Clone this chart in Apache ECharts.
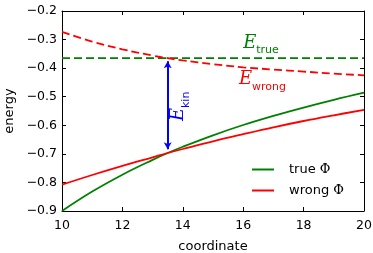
<!DOCTYPE html>
<html><head><meta charset="utf-8">
<script src="https://cdn.jsdelivr.net/npm/echarts@6/dist/echarts.min.js"></script>
<style>html,body{margin:0;padding:0;background:#fff}#c{width:373px;height:253px}</style>
</head><body><div id="c"></div>
<script>
// ---- data ----
const coord = [10, 11, 12, 13, 13.5, 14, 15, 16, 17, 18, 19, 20];
const truePhi = [-0.900, -0.832, -0.773, -0.721, -0.697, -0.675, -0.635, -0.599, -0.567, -0.538, -0.511, -0.486];
const wrongPhi = [-0.808, -0.774, -0.742, -0.712, -0.697, -0.683, -0.656, -0.631, -0.607, -0.585, -0.565, -0.546];
const eWrong = [-0.273, -0.307, -0.334, -0.356, -0.365, -0.373, -0.386, -0.397, -0.405, -0.412, -0.419, -0.425];
const eTrue = -0.365;
const eTrueX = [10, 20];
const kinX = 13.5;
const kinEnds = [-0.376, -0.684];
const xTicks = [10, 12, 14, 16, 18, 20];
const yTicks = [-0.9, -0.8, -0.7, -0.6, -0.5, -0.4, -0.3, -0.2];

const GREEN = '#008000', RED = '#ff0000', BLUE = '#0000ff';
const FONT = 'DejaVu Sans';
const fmtY = v => (v < 0 ? '\u2212' : '') + Math.abs(v).toFixed(1);
const pair = (xs, ys) => xs.map((x, i) => [x, ys[i]]);

const chart = echarts.init(document.getElementById('c'), null, {renderer: 'canvas'});
const axisCommon = {
  axisLine: {show: true, lineStyle: {color: '#000', width: 1}},
  axisTick: {show: true, inside: true, length: 4, lineStyle: {color: '#000', width: 1}},
  splitLine: {show: false}
};
chart.setOption({
  animation: false,
  backgroundColor: '#fff',
  grid: {left: 62, right: 9, top: 11, bottom: 42, containLabel: false, outerBoundsMode: 'none'},
  xAxis: [
    Object.assign({type: 'value', position: 'bottom', min: xTicks[0], max: xTicks[xTicks.length - 1], interval: 2,
      name: 'coordinate', nameLocation: 'middle', nameGap: 29,
      nameTextStyle: {fontFamily: FONT, fontSize: 13, color: '#000'},
      axisLabel: {fontFamily: FONT, fontSize: 12.5, color: '#000', margin: 8}}, axisCommon),
    Object.assign({type: 'value', position: 'top', min: xTicks[0], max: xTicks[xTicks.length - 1], interval: 2,
      axisLabel: {show: false}}, axisCommon)
  ],
  yAxis: [
    Object.assign({type: 'value', position: 'left', min: yTicks[0], max: yTicks[yTicks.length - 1], interval: 0.1,
      name: 'energy', nameLocation: 'middle', nameGap: 38, nameRotate: 90,
      nameTextStyle: {fontFamily: FONT, fontSize: 13, color: '#000'},
      axisLabel: {fontFamily: FONT, fontSize: 12.5, color: '#000', margin: 5, formatter: fmtY}}, axisCommon),
    Object.assign({type: 'value', position: 'right', min: yTicks[0], max: yTicks[yTicks.length - 1], interval: 0.1,
      axisLabel: {show: false}}, axisCommon)
  ],
  legend: {
    orient: 'vertical', left: 247, top: 157, itemGap: 6, itemWidth: 22, itemHeight: 2,
    data: [{name: 'true \u03a6', icon: 'rect'}, {name: 'wrong \u03a6', icon: 'rect'}],
    formatter: name => '{a|' + name.slice(0, -1) + '}{b|\u03a6}',
    textStyle: {fontFamily: FONT, fontSize: 13, color: '#000', lineHeight: 15, padding: [0, 0, 0, 10],
      rich: {a: {fontFamily: FONT, fontSize: 13, color: '#000'}, b: {fontFamily: 'DejaVu Serif', fontSize: 13, color: '#000'}}},
    selectedMode: false
  },
  series: [
    {name: 'E_true', type: 'line', data: pair(eTrueX, [eTrue, eTrue]), showSymbol: false, symbol: 'none',
      lineStyle: {color: GREEN, width: 1.8, type: [8, 4]}, itemStyle: {color: GREEN}, z: 2},
    {name: 'E_wrong', type: 'line', data: pair(coord, eWrong), smooth: 0.4, showSymbol: false, symbol: 'none',
      lineStyle: {color: RED, width: 1.8, type: [8, 4]}, itemStyle: {color: RED}, z: 3},
    {name: 'true \u03a6', type: 'line', data: pair(coord, truePhi), smooth: 0.4, showSymbol: false, symbol: 'none',
      lineStyle: {color: GREEN, width: 1.8}, itemStyle: {color: GREEN}, z: 4},
    {name: 'wrong \u03a6', type: 'line', data: pair(coord, wrongPhi), smooth: 0.4, showSymbol: false, symbol: 'none',
      lineStyle: {color: RED, width: 1.8}, itemStyle: {color: RED}, z: 5},
    {name: 'kin', type: 'line', data: [], z: 6,
      markLine: {silent: true, symbol: ['arrow', 'arrow'], symbolSize: [6, 7], label: {show: false},
        lineStyle: {color: BLUE, width: 2, type: 'solid'},
        data: [[{coord: [kinX, kinEnds[0]]}, {coord: [kinX, kinEnds[1]]}]]}}
  ]
});

// ---- annotations anchored in data coordinates ----
const P = (x, y) => chart.convertToPixel({gridIndex: 0}, [x, y]);
function label(anchor, main, sub, color, rot) {
  const p = P(anchor[0], anchor[1]);
  return {
    type: 'group', x: p[0], y: p[1], rotation: rot || 0,
    children: [
      {type: 'text', x: 0, y: 0, style: {text: main, fill: color, font: 'italic 18px "DejaVu Serif"', align: 'left', verticalAlign: 'bottom'}},
      {type: 'text', x: 13, y: 4, style: {text: sub, fill: color, font: '11px "DejaVu Sans"', align: 'left', verticalAlign: 'bottom'}}
    ]
  };
}
chart.setOption({
  graphic: [
    label([16.0, -0.343], 'E', 'true', GREEN),
    label([15.86, -0.472], 'E', 'wrong', RED),
    label([14.15, -0.585], 'E', 'kin', BLUE, Math.PI / 2)
  ]
});
</script></body></html>
